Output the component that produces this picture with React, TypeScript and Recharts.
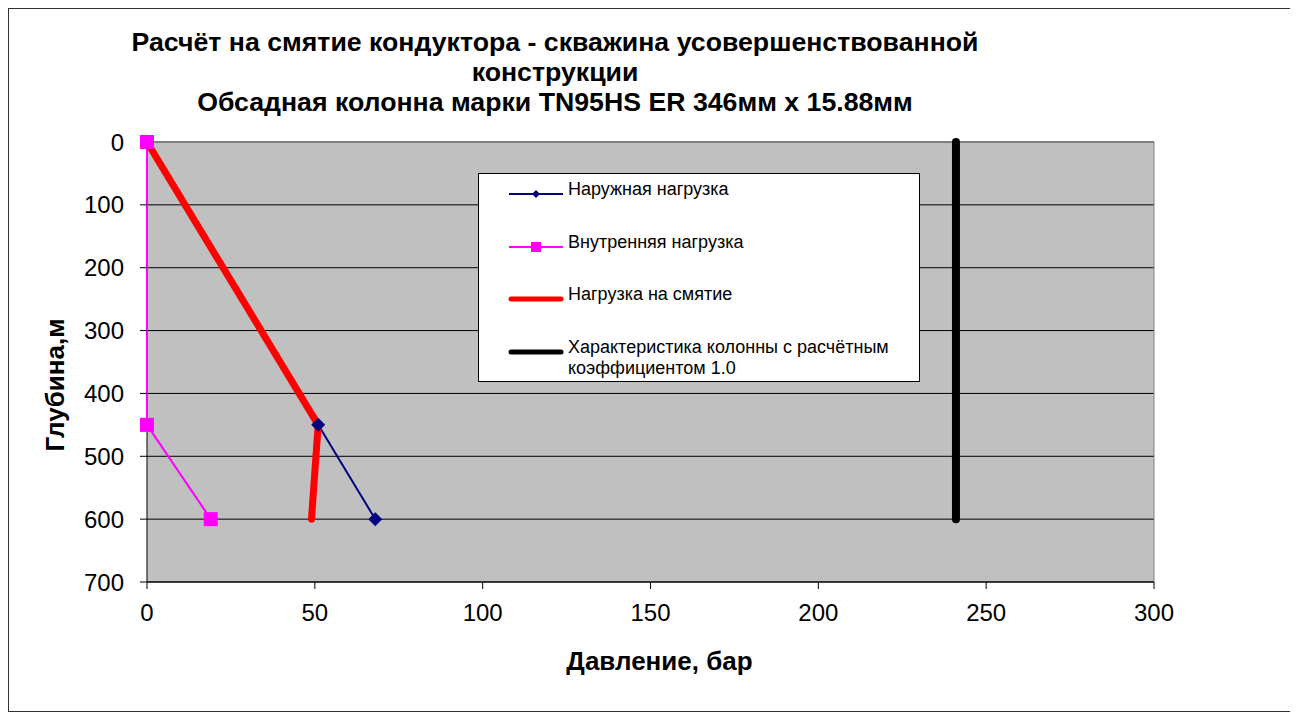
import React from 'react'
import {
  LineChart,
  Line,
  XAxis,
  YAxis,
  CartesianGrid,
  Legend,
  Label,
  ReferenceLine
} from 'recharts'

const FONT = '"Liberation Sans", Arial, sans-serif'

const titleLines = [
  'Расчёт на смятие кондуктора - скважина усовершенствованной',
  'конструкции',
  'Обсадная колонна марки TN95HS ER 346мм x 15.88мм'
]

const xTicks = [0, 50, 100, 150, 200, 250, 300]
const yTicks = [0, 100, 200, 300, 400, 500, 600, 700]

// depth (m) / pressure (bar)
const externalDepth = [0, 450, 600]
const externalPressure = [0, 51, 68]
const internalDepth = [0, 450, 600]
const internalPressure = [0, 0, 19]
const collapseDepth = [0, 450, 600]
const collapsePressure = [0, 51, 49]
const ratingDepth = [0, 600]
const ratingPressure = [241, 241]

const seriesNames = [
  'Наружная нагрузка',
  'Внутренняя нагрузка',
  'Нагрузка на смятие',
  'Характеристика колонны с расчётным коэффициентом 1.0'
]

const zip = (p: number[], d: number[]) => p.map((x, i) => ({ x, y: d[i] }))

const externalData = zip(externalPressure, externalDepth)
const internalData = zip(internalPressure, internalDepth)
const collapseData = zip(collapsePressure, collapseDepth)
const ratingData = zip(ratingPressure, ratingDepth)

const diamondDot = (props: any) => {
  const { cx, cy, index } = props
  const r = 7
  return (
    <path
      key={`dm-${index}`}
      d={`M${cx},${cy - r} L${cx + r},${cy} L${cx},${cy + r} L${cx - r},${cy} Z`}
      fill="#000080"
    />
  )
}

const squareDot = (props: any) => {
  const { cx, cy, index } = props
  const s = 14
  return <rect key={`sq-${index}`} x={cx - s / 2} y={cy - s / 2} width={s} height={s} fill="#FF00FF" />
}

function LegendBox() {
  const rowTop = [16, 69, 121, 174]
  const sample = (i: number) => {
    if (i === 0)
      return (
        <svg width={56} height={12}>
          <line x1={1} y1={6} x2={55} y2={6} stroke="#000080" strokeWidth={2} />
          <path d="M28,2 L32,6 L28,10 L24,6 Z" fill="#000080" />
        </svg>
      )
    if (i === 1)
      return (
        <svg width={56} height={12}>
          <line x1={1} y1={6} x2={55} y2={6} stroke="#FF00FF" strokeWidth={2} />
          <rect x={23} y={1} width={10} height={10} fill="#FF00FF" />
        </svg>
      )
    return (
      <svg width={56} height={12}>
        <line
          x1={3}
          y1={6}
          x2={53}
          y2={6}
          stroke={i === 2 ? '#FF0000' : '#000000'}
          strokeWidth={5}
          strokeLinecap="round"
        />
      </svg>
    )
  }
  return (
    <div
      style={{
        position: 'relative',
        width: 442,
        height: 209,
        boxSizing: 'border-box',
        border: '1px solid #000',
        background: '#fff',
        fontFamily: FONT,
        fontSize: 18,
        color: '#000'
      }}
    >
      {seriesNames.map((name, i) => (
        <div key={name} style={{ position: 'absolute', left: 29, top: rowTop[i] - 11, display: 'flex' }}>
          <div style={{ width: 60, paddingTop: 5 }}>{sample(i)}</div>
          <div style={{ width: 350, lineHeight: '21px' }}>
            {i === 3 ? (
              <>
                Характеристика колонны с расчётным
                <br />
                коэффициентом 1.0
              </>
            ) : (
              name
            )}
          </div>
        </div>
      ))}
    </div>
  )
}

export default function App() {
  return (
    <div
      style={{
        position: 'relative',
        width: 1285,
        height: 704,
        boxSizing: 'border-box',
        border: '1px solid #333',
        background: '#fff',
        fontFamily: FONT
      }}
    >
      <div
        style={{
          position: 'absolute',
          left: -1,
          top: 18,
          width: 1094,
          textAlign: 'center',
          fontWeight: 'bold',
          fontSize: 26.7,
          lineHeight: '30px',
          color: '#000'
        }}
      >
        {titleLines.map((t) => (
          <div key={t}>{t}</div>
        ))}
      </div>
      <LineChart
        width={1283}
        height={702}
        margin={{ top: 133, right: 138, bottom: 79, left: 68 }}
        style={{ position: 'absolute', left: 0, top: 0, fontFamily: FONT }}
      >
        <CartesianGrid
          stroke="#000"
          fill="#C0C0C0"
          fillOpacity={1}
          verticalCoordinatesGenerator={(p: any) => [p.offset.left]}
        />
        <XAxis
          type="number"
          dataKey="x"
          domain={[0, 300]}
          ticks={xTicks}
          height={50}
          tickSize={7}
          tickMargin={15}
          stroke="#000"
          tick={{ fill: '#000', fontSize: 24 }}
        >
          <Label
            content={(p: any) => {
              const vb = p.viewBox
              return (
                <text
                  x={vb.x + vb.width / 2 + 9}
                  y={vb.y + 88}
                  textAnchor="middle"
                  fontSize={26}
                  fontWeight="bold"
                  fill="#000"
                >
                  Давление, бар
                </text>
              )
            }}
          />
        </XAxis>
        <YAxis
          type="number"
          reversed
          domain={[0, 700]}
          ticks={yTicks}
          width={70}
          tickSize={7}
          tickMargin={16}
          stroke="#000"
          axisLine={false}
          tick={{ fill: '#000', fontSize: 24 }}
        >
          <Label
            content={(p: any) => {
              const vb = p.viewBox
              const cx = vb.x - 22
              const cy = vb.y + vb.height / 2 + 23
              return (
                <text
                  x={cx}
                  y={cy}
                  transform={`rotate(-90 ${cx} ${cy})`}
                  textAnchor="middle"
                  dominantBaseline="central"
                  fontSize={26}
                  fontWeight="bold"
                  fill="#000"
                >
                  Глубина,м
                </text>
              )
            }}
          />
        </YAxis>
        <ReferenceLine x={300} stroke="#808080" strokeWidth={1} />
        <ReferenceLine y={0} stroke="#808080" strokeWidth={2} />
        <Legend
          layout="horizontal"
          verticalAlign="middle"
          align="center"
          wrapperStyle={{ left: 469, top: 164, width: 442, height: 209 }}
          content={() => <LegendBox />}
        />
        <Line
          data={externalData}
          dataKey="y"
          name={seriesNames[0]}
          type="linear"
          stroke="#000080"
          strokeWidth={2}
          dot={diamondDot}
          activeDot={false}
          isAnimationActive={false}
        />
        <Line
          data={internalData}
          dataKey="y"
          name={seriesNames[1]}
          type="linear"
          stroke="#FF00FF"
          strokeWidth={2}
          dot={squareDot}
          activeDot={false}
          isAnimationActive={false}
        />
        <Line
          data={collapseData}
          dataKey="y"
          name={seriesNames[2]}
          type="linear"
          stroke="#FF0000"
          strokeWidth={7}
          strokeLinecap="round"
          strokeLinejoin="round"
          dot={false}
          activeDot={false}
          isAnimationActive={false}
        />
        <Line
          data={ratingData}
          dataKey="y"
          name={seriesNames[3]}
          type="linear"
          stroke="#000000"
          strokeWidth={8}
          strokeLinecap="round"
          dot={false}
          activeDot={false}
          isAnimationActive={false}
        />
      </LineChart>
    </div>
  )
}
